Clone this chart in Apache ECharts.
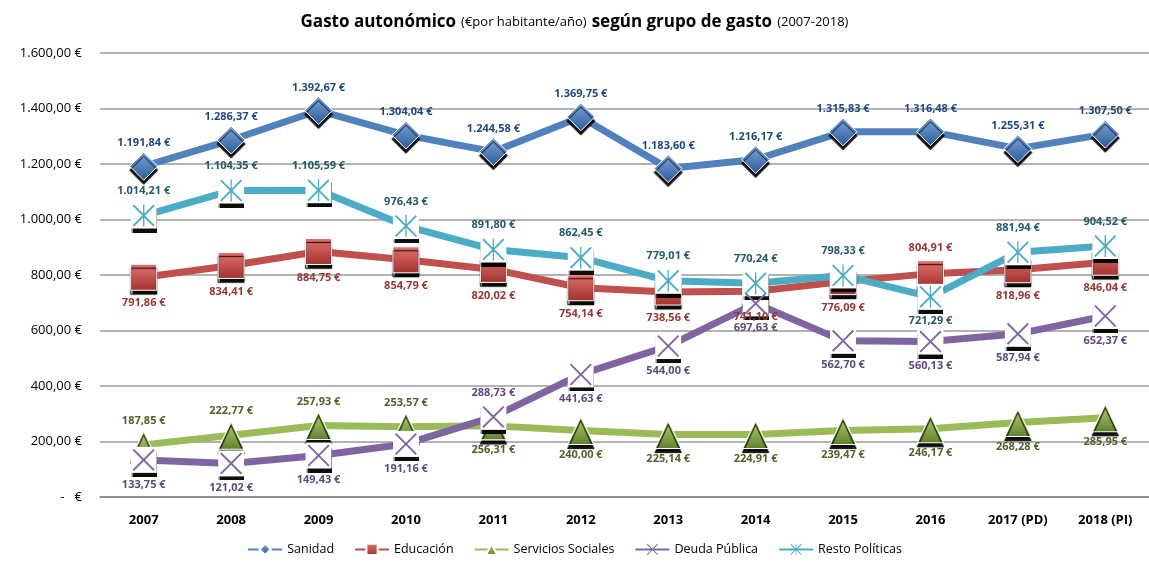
<!DOCTYPE html>
<html>
<head>
<meta charset="utf-8">
<title>Gasto autonómico</title>
<script src="https://cdn.jsdelivr.net/npm/echarts@6.0.0/dist/echarts.min.js"></script>
<style>
  html, body { margin: 0; padding: 0; background: #fff; }
  #chart { width: 1149px; height: 562px; }
</style>
</head>
<body>
<div id="chart"></div>
<script>
// datos (€ por habitante / año)
const years = ['2007', '2008', '2009', '2010', '2011', '2012', '2013', '2014', '2015', '2016', '2017 (PD)', '2018 (PI)']
const sanidad = [1191.84, 1286.37, 1392.67, 1304.04, 1244.58, 1369.75, 1183.60, 1216.17, 1315.83, 1316.48, 1255.31, 1307.50]
const educacion = [791.86, 834.41, 884.75, 854.79, 820.02, 754.14, 738.56, 741.10, 776.09, 804.91, 818.96, 846.04]
const serviciosSociales = [187.85, 222.77, 257.93, 253.57, 256.31, 240.00, 225.14, 224.91, 239.47, 246.17, 268.28, 285.95]
const deudaPublica = [133.75, 121.02, 149.43, 191.16, 288.73, 441.63, 544.00, 697.63, 562.70, 560.13, 587.94, 652.37]
const restoPoliticas = [1014.21, 1104.35, 1105.59, 976.43, 891.80, 862.45, 779.01, 770.24, 798.33, 721.29, 881.94, 904.52]
const yTicks = [0, 200, 400, 600, 800, 1000, 1200, 1400, 1600]

// formato español: 1.191,84 €
const fmt = (v) => {
  const parts = v.toFixed(2).split('.')
  const ent = parts[0].replace(/\B(?=(\d{3})+(?!\d))/g, '.')
  return ent + ',' + parts[1] + ' €'
}

// simbolos
const xPath = 'path://M6,0L50,44L94,0L100,6L56,50L100,94L94,100L50,56L6,100L0,94L44,50L0,6Z'
const starPath = 'path://M6,0L50,44L94,0L100,6L56,50L100,94L94,100L50,56L6,100L0,94L44,50L0,6Z M47,0L53,0L53,100L47,100Z'

const shadow = {
  shadowColor: 'rgba(0,0,0,0.95)',
  shadowOffsetX: 0,
  shadowOffsetY: 4,
  shadowBlur: 1
}

const grad = (a, b) => new echarts.graphic.LinearGradient(0, 0, 0, 1, [
  { offset: 0, color: a },
  { offset: 1, color: b }
])

const labelFont = {
  fontFamily: 'Open Sans',
  fontWeight: 'bold',
  fontSize: 11
}

// posicion de etiquetas (arriba / abajo) como en el original
const posSan = Array(12).fill('top')
const posEdu = ['bottom', 'bottom', 'bottom', 'bottom', 'bottom', 'bottom', 'bottom', 'bottom', 'bottom', 'top', 'bottom', 'bottom']
const posSS = ['top', 'top', 'top', 'top', 'bottom', 'bottom', 'bottom', 'bottom', 'bottom', 'bottom', 'bottom', 'bottom']
const posDeu = ['bottom', 'bottom', 'bottom', 'bottom', 'top', 'bottom', 'bottom', 'bottom', 'bottom', 'bottom', 'bottom', 'bottom']
const posRes = ['top', 'top', 'top', 'top', 'top', 'top', 'top', 'top', 'top', 'bottom', 'top', 'top']

const withPos = (vals, pos, dist) => vals.map((v, i) => ({
  value: v,
  label: { position: pos[i], distance: dist }
}))

const lineSeries = (name, vals, pos, color, labelColor, symbol, size, itemColor, dist) => ({
  name: name,
  type: 'line',
  data: withPos(vals, pos, dist),
  symbol: symbol,
  symbolSize: size,
  lineStyle: { width: 7, color: color },
  itemStyle: Object.assign({ color: itemColor, borderColor: '#fff', borderWidth: 1 }, symbol.indexOf('path') === 0 ? {} : shadow),
  label: Object.assign({ show: true, color: labelColor, formatter: (p) => fmt(p.value) }, labelFont),
  emphasis: { disabled: true },
  animation: false
})

// fondo blanco + X encima de la linea
const backing = (name, vals) => ({
  name: name + '_fondo',
  type: 'scatter',
  data: vals,
  symbol: 'rect',
  symbolSize: 26,
  z: 3,
  itemStyle: Object.assign({ color: '#fff', opacity: 1 }, shadow),
  silent: true,
  animation: false
})

const glyph = (name, vals, symbol, color) => ({
  name: name + '_x',
  type: 'scatter',
  data: vals,
  symbol: symbol,
  symbolSize: 22,
  z: 4,
  itemStyle: { color: color, opacity: 1 },
  silent: true,
  animation: false
})

const chart = echarts.init(document.getElementById('chart'))

const option = {
  backgroundColor: '#fff',
  title: {
    left: 'center',
    top: 8,
    text: '{b|Gasto autonómico} {n|(€por habitante/año)} {b|según grupo de gasto} {n|(2007-2018)}',
    textStyle: {
      rich: {
        b: { fontFamily: 'Open Sans', fontWeight: 'bold', fontSize: 17, color: '#000' },
        n: { fontFamily: 'Open Sans', fontWeight: 'normal', fontSize: 13, color: '#000' }
      }
    }
  },
  legend: {
    bottom: 1,
    left: 'center',
    data: ['Sanidad', 'Educación', 'Servicios Sociales', 'Deuda Pública', 'Resto Políticas'],
    itemWidth: 34,
    itemHeight: 14,
    itemGap: 20,
    textStyle: { fontFamily: 'Open Sans', fontSize: 12.5, color: '#000' }
  },
  grid: { left: 100, right: -7, top: 53, bottom: 65 },
  xAxis: {
    type: 'category',
    data: years,
    axisLine: { lineStyle: { color: '#868686', width: 1.5 } },
    axisTick: { show: false },
    axisLabel: {
      margin: 17,
      fontFamily: 'Open Sans',
      fontWeight: 'bold',
      fontSize: 13,
      color: '#000'
    }
  },
  yAxis: {
    type: 'value',
    min: yTicks[0],
    max: yTicks[yTicks.length - 1],
    interval: 200,
    axisLine: { show: false },
    axisTick: { show: false },
    splitLine: { lineStyle: { color: '#9a9a9a', width: 1.5 } },
    axisLabel: {
      margin: 18,
      fontFamily: 'Open Sans',
      fontSize: 13,
      color: '#000',
      formatter: (v) => (v === 0 ? '-   €' : fmt(v))
    }
  },
  series: [
    lineSeries('Servicios Sociales', serviciosSociales, posSS, '#9bbb59', '#4f6228', 'triangle', [26, 28], grad('#b8d77a', '#5f7f2a'), 4),
    lineSeries('Educación', educacion, posEdu, '#c0504d', '#953735', 'rect', 26, grad('#e2736f', '#a3302c'), 7),
    Object.assign(lineSeries('Deuda Pública', deudaPublica, posDeu, '#8064a2', '#5f497a', xPath, 22, '#8064a2', 8), { itemStyle: { color: '#8064a2' } }),
    backing('Deuda Pública', deudaPublica),
    glyph('Deuda Pública', deudaPublica, xPath, '#8064a2'),
    Object.assign(lineSeries('Resto Políticas', restoPoliticas, posRes, '#4bacc6', '#245a68', starPath, 22, '#4bacc6', 8), { itemStyle: { color: '#4bacc6' } }),
    backing('Resto Políticas', restoPoliticas),
    glyph('Resto Políticas', restoPoliticas, starPath, '#4bacc6'),
    lineSeries('Sanidad', sanidad, posSan, '#4f81bd', '#1f497d', 'diamond', 28, grad('#7ea8dd', '#2a5a95'), 3)
  ]
}

chart.setOption(option)
</script>
</body>
</html>
